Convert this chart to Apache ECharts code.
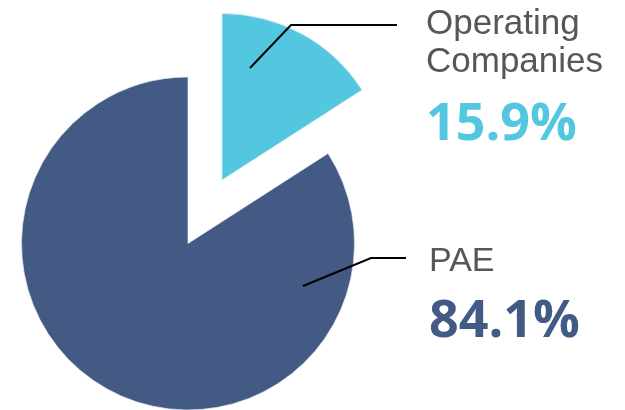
<!DOCTYPE html>
<html>
<head>
<meta charset="utf-8">
<script src="https://cdn.jsdelivr.net/npm/echarts@6/dist/echarts.min.js"></script>
<style>html,body{margin:0;padding:0;background:#fff}#c{width:625px;height:410px}</style>
</head>
<body>
<div id="c"></div>
<script>
var categories = ['Operating Companies', 'PAE'];
var values = [15.9, 84.1];
var colors = ['#54c7e0', '#435a85'];

// layout (not data): slice centres (exploded slice is shifted), label boxes, leader lines
var sliceCenters = [[222, 180], [188, 243.5]];
var labelBoxes = [
  {x: 426, y: 5, line: [[250, 68], [291, 25], [397, 25]]},
  {x: 429, y: 243, line: [[303, 286], [371, 258], [406, 258]]}
];

function sliceSeries(k) {
  return {
    type: 'pie',
    center: sliceCenters[k],
    radius: 166.5,
    startAngle: 90,
    clockwise: true,
    silent: true,
    z: 2,
    label: {show: false},
    labelLine: {show: false},
    emphasis: {disabled: true},
    data: categories.map(function (c, i) {
      return {
        name: c, value: values[i],
        itemStyle: i === k
          ? {color: colors[i], borderColor: '#e4e8f0', borderWidth: 0.7}
          : {color: 'rgba(0,0,0,0)', borderWidth: 0}
      };
    })
  };
}

var labelSeries = {
  type: 'pie',
  center: sliceCenters[1],
  radius: 166,
  startAngle: 90,
  clockwise: true,
  silent: true,
  z: 5,
  avoidLabelOverlap: false,
  emphasis: {disabled: true},
  itemStyle: {color: 'rgba(0,0,0,0)', borderWidth: 0},
  label: {
    show: true,
    position: 'outside',
    formatter: function (p) {
      var lines = p.name.split(' ').map(function (w) { return '{n' + p.dataIndex + '|' + w + '}'; });
      lines.push('{p' + p.dataIndex + '|' + p.value.toFixed(1) + '%}');
      return lines.join('\n');
    },
    rich: {
      n0: {fontSize: 35, lineHeight: 38, color: '#575757', fontFamily: 'Liberation Sans'},
      n1: {fontSize: 34, lineHeight: 38, color: '#575757', fontFamily: 'Liberation Sans'},
      p0: {fontSize: 52, lineHeight: 88, color: colors[0], fontWeight: 'bold', fontFamily: 'Open Sans'},
      p1: {fontSize: 52, lineHeight: 82, color: colors[1], fontWeight: 'bold', fontFamily: 'Open Sans'}
    }
  },
  labelLine: {show: true, lineStyle: {color: '#000', width: 2}},
  labelLayout: function (params) {
    var b = labelBoxes[params.dataIndex];
    return {x: b.x, y: b.y, align: 'left', verticalAlign: 'top', labelLinePoints: b.line};
  },
  data: categories.map(function (c, i) { return {name: c, value: values[i]}; })
};

var chart = echarts.init(document.getElementById('c'), null, {renderer: 'canvas'});
chart.setOption({
  animation: false,
  series: [sliceSeries(0), sliceSeries(1), labelSeries]
});
</script>
</body>
</html>
